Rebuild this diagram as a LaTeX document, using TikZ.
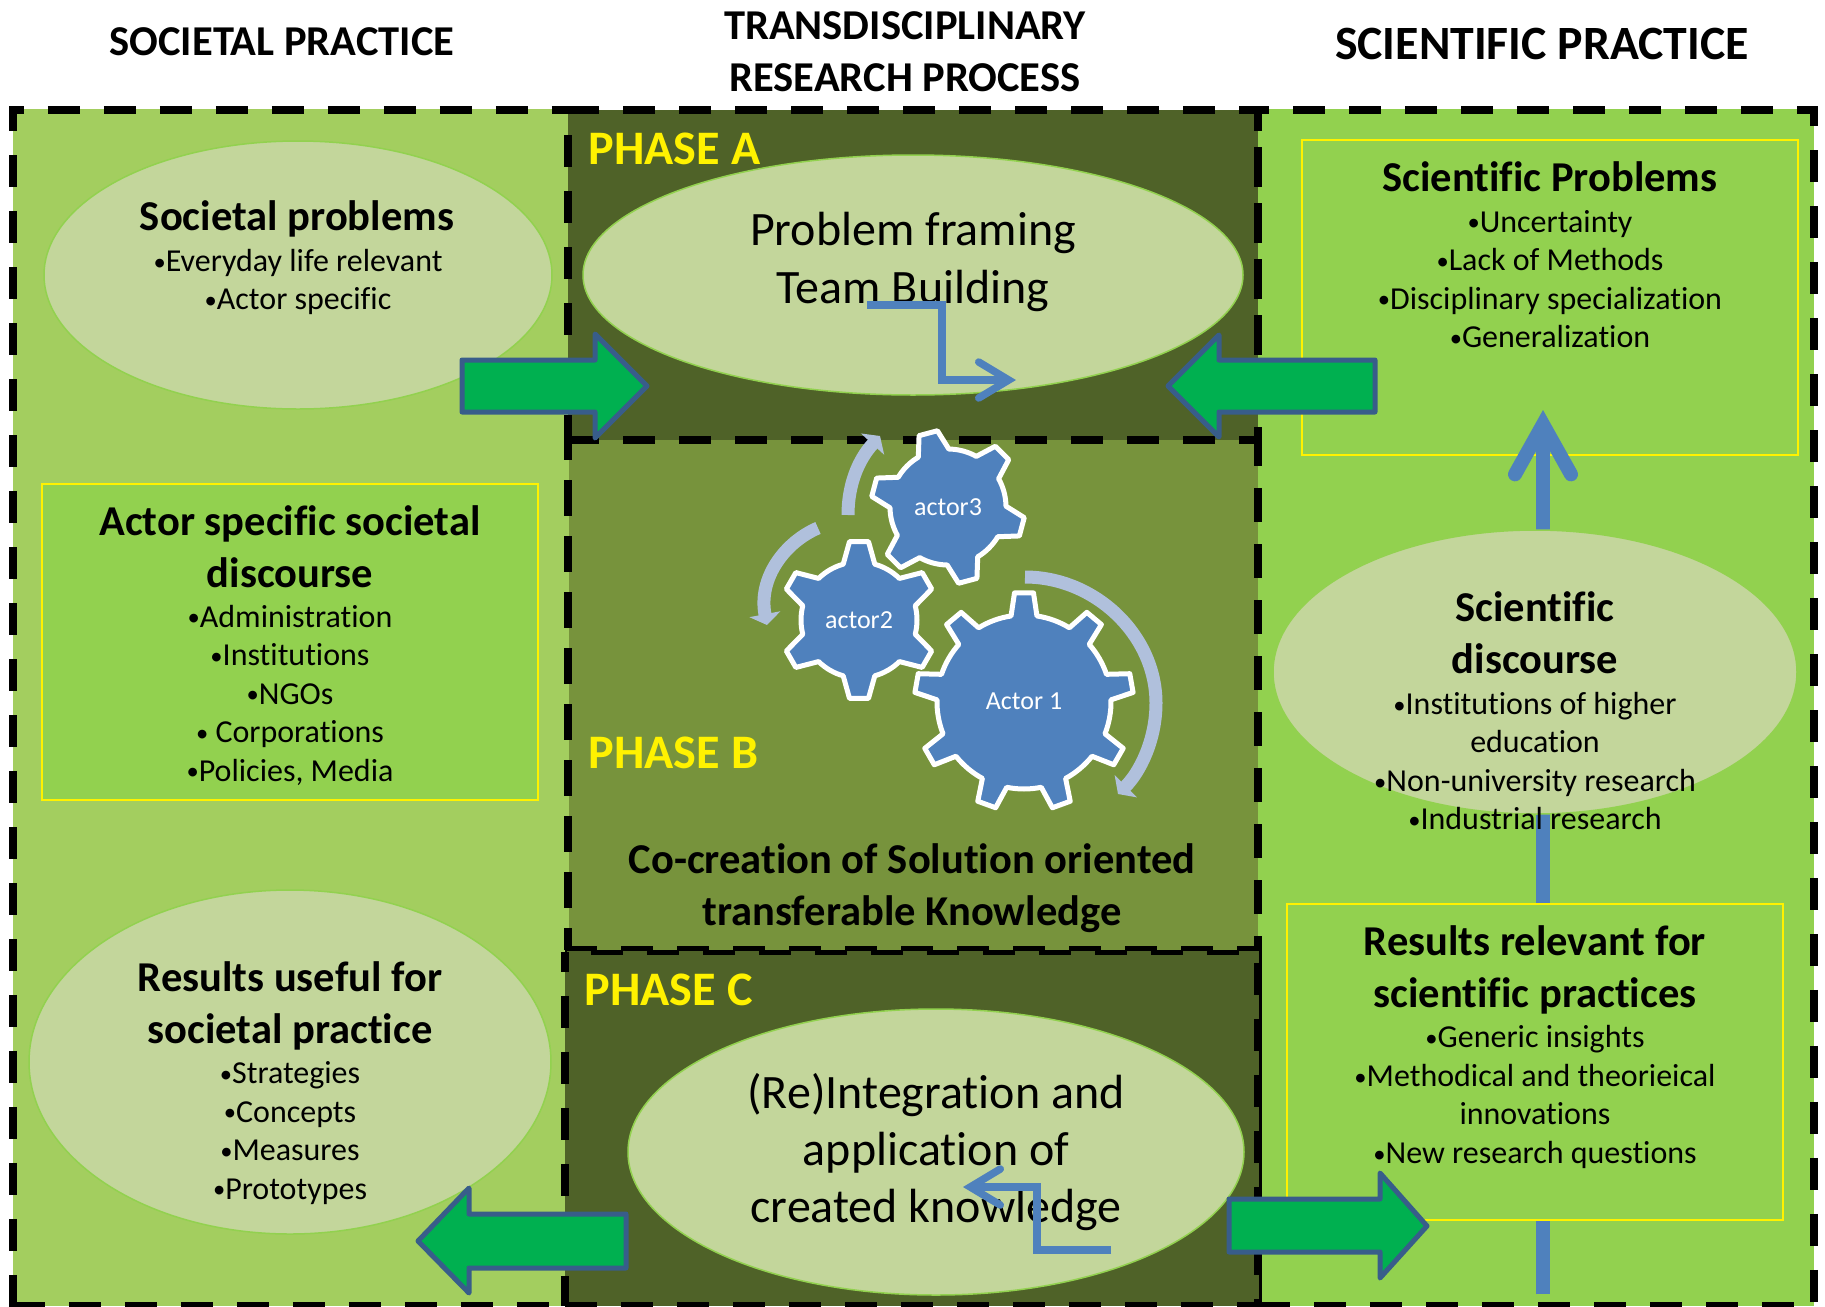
\documentclass[tikz,border=0pt]{standalone}
\usepackage{fontspec}
\setmainfont{Carlito}[Ligatures=CommonOff]
\usetikzlibrary{arrows.meta,shapes.geometric,calc}
\definecolor{leftgreen}{HTML}{A3CE5F}
\definecolor{rightgreen}{HTML}{92D14F}
\definecolor{darkolive}{HTML}{4F6228}
\definecolor{midolive}{HTML}{77933C}
\definecolor{paleoval}{HTML}{C3D69B}
\definecolor{fatgreen}{HTML}{00B050}
\definecolor{fatedge}{HTML}{385D8A}
\definecolor{gearblue}{HTML}{4F81BD}
\definecolor{palearrow}{HTML}{B0C0DC}
\tikzset{
    dashline/.style={line width=.8mm,dash pattern=on 3.2mm off 2.4mm},
    oval/.style={ellipse,draw=rightgreen,fill=paleoval,line width=.15mm,inner sep=0pt},
    yellowbox/.style={draw=yellow,fill=rightgreen,line width=.2mm},
    fatarrow/.style={draw=fatedge,fill=fatgreen,line width=.5mm,line join=round},
    headtext/.style={align=center,font=\fontsize{12.1}{14.7}\selectfont\bfseries},
    bodytext/.style={align=center,font=\fontsize{9.1}{10.95}\selectfont},
    bigtext/.style={align=center,font=\fontsize{13.65}{16.3}\selectfont},
    phasetext/.style={anchor=west,inner sep=0pt,text=yellow,font=\fontsize{13.7}{16}\selectfont\bfseries},
    geartext/.style={text=white,font=\fontsize{7.4}{9}\selectfont},
    bluearrow/.style={draw=gearblue,line width=.75mm,-{Straight Barb[length=3mm,width=3.6mm,line width=.75mm,line cap=round,line join=miter]}},
    swirl/.style={draw=palearrow,line width=1.3mm,-{Triangle[length=1.1mm,width=3.1mm]}},
    gearbody/.style={draw=white,fill=gearblue,line width=.5mm,line join=round}
}
\newcommand{\itm}{{\fontsize{7}{7}\selectfont\raisebox{.35pt}{•}}}
% center, teeth, first tooth angle, root radius, tip radius, half tooth at root
\newcommand{\gear}[6]{
    \begin{scope}[shift={(#1)},yscale=-1]
    \pgfmathsetmacro{\tipang}{545/#5}
    \pgfmathsetmacro{\rootang}{#6*57.3/#4}
    \pgfmathsetmacro{\gstep}{360/#2}
    \filldraw[gearbody] (#3-\rootang:#4)
        \foreach \i [evaluate=\i as \a using #3+(\i-1)*\gstep] in {1,...,#2}{
            -- (\a-\rootang:#4) -- (\a-\tipang:#5) -- (\a+\tipang:#5) -- (\a+\rootang:#4)
            arc[start angle=\a+\rootang,end angle=\a+\gstep-\rootang,radius=#4]
        } -- cycle;
    \end{scope}
}
\begin{document}
\begin{tikzpicture}[x=.1mm,y=-.1mm]
    \useasboundingbox (0,0) rectangle (1825,1306);
    \fill[white] (0,0) rectangle (1825,1306);
    % columns
    \fill[leftgreen] (13,109) rectangle (570,1306);
    \fill[rightgreen] (1258,109) rectangle (1814,1306);
    \fill[darkolive] (568,110) rectangle (1258,440);
    \fill[midolive] (569,440) rectangle (1258,950);
    \fill[darkolive] (565,950) rectangle (1260,1306);
    % outer sides
    \draw[dashline,dash phase=1.7mm] (9,110)--(572,110);
    \draw[dashline,dash phase=.7mm] (13,106)--(13,1310);
    \draw[dashline] (13,1306)--(568,1306);
    \draw[dashline,dash phase=1.7mm] (1254,110)--(1817,110);
    \draw[dashline,dash phase=1.2mm] (1813.5,106)--(1813.5,1310);
    \draw[dashline] (1258,1306)--(1817,1306);
    % phase boxes
    \draw[dashline] (567,110)--(1262,110);
    \draw[dashline,dash phase=3.1mm] (568,110)--(568,440);
    \draw[dashline,dash pattern=on 4mm off 1.6mm,dash phase=1.9mm] (1258,110)--(1258,440);
    \draw[dashline] (567,440)--(1262,440);
    \draw[dashline,dash pattern=on 3.6mm off 2mm,dash phase=1.6mm] (568,440)--(568,950);
    \draw[dashline,dash pattern=on 3.4mm off 2.2mm,dash phase=.8mm] (1258,440)--(1258,950);
    \draw[dashline,line width=.5mm] (565,948)--(1262,948);
    \draw[dashline,line width=.5mm,dash phase=3mm] (565,952)--(1262,952);
    \draw[dashline,dash phase=1.2mm] (565,952)--(565,1306);
    \draw[dashline,dash phase=4.5mm] (1258,952)--(1258,1306);
    \draw[black,line width=.3mm] (1260.5,950)--(1260.5,1306);
    \draw[dashline] (565,1306)--(1262,1306);

    \node[headtext] (societal) at (282,42) {SOCIETAL PRACTICE};
    \node[headtext] (process) at (905,52) {TRANSDISCIPLINARY\\RESEARCH PROCESS};
    \node[headtext,font=\fontsize{13.6}{17}\selectfont\bfseries] (scientific) at (1542,44) {SCIENTIFIC PRACTICE};

    \node[phasetext] (phasea) at (588,149) {PHASE A};
    \node[phasetext] (phaseb) at (588,753) {PHASE B};
    \node[phasetext] (phasec) at (584,990) {PHASE C};

    % boxes and the long arrow
    \draw[yellowbox] (1302,140) rectangle (1798,455);
    \draw[yellowbox] (42,484) rectangle (538,800);
    \coordinate (risefrom) at (1543,1294);
    \coordinate (riseto) at (1543,410);
    \draw[draw=gearblue,line width=1.4mm,-{Straight Barb[length=5mm,width=5.6mm,line width=1.4mm,line cap=round,line join=miter]}] (risefrom)--(riseto);
    \draw[yellowbox] (1287,904) rectangle (1783,1220);

    \node[oval,minimum width=50.8mm,minimum height=26.8mm] (sproblems) at (298,275) {};
    \node[oval,minimum width=66mm,minimum height=24mm] (framing) at (913,275) {};
    \node[oval,minimum width=52.4mm,minimum height=28.4mm] (sdiscourse) at (1535,672) {};
    \node[oval,minimum width=52.2mm,minimum height=34.4mm] (useful) at (290,1062) {};
    \node[oval,minimum width=61.6mm,minimum height=28.6mm] (reintegration) at (936,1152) {};

    \node[headtext] (sptitle) at (297,218.5) {Societal problems};
    \node[bodytext] (spitems) at (298,282) {\itm Everyday life relevant\\\itm Actor specific};
    \node[headtext] (adtitle) at (290,547) {Actor specific societal\\discourse};
    \node[bodytext] (aditems) at (290,695) {\itm Administration\\\itm Institutions\\\itm NGOs\\\itm\ Corporations\\\itm Policies, Media};
    \node[headtext] (rutitle) at (290,1006) {Results useful for\\societal practice};
    \node[bodytext] (ruitems) at (290,1133) {\itm Strategies\\\itm Concepts\\\itm Measures\\\itm Prototypes};

    \node[bigtext] (framingtext) at (913,262) {Problem framing\\Team Building};
    \node[headtext] (cocreation) at (912,888) {Co-creation of Solution oriented\\transferable Knowledge};
    \node[bigtext] (reinttext) at (936,1152) {(Re)Integration and\\application of\\created knowledge};

    \node[headtext] (sctitle) at (1550,177) {Scientific Problems};
    \node[bodytext] (scitems) at (1550,279) {\itm Uncertainty\\\itm Lack of Methods\\\itm Disciplinary specialization\\\itm Generalization};
    \node[headtext] (sdtitle) at (1535,633) {Scientific\\discourse};
    \node[bodytext] (sditems) at (1535,761) {\itm Institutions of higher\\education\\\itm Non-university research\\\itm Industrial research};
    \node[headtext] (rrtitle) at (1535,970) {Results relevant for\\scientific practices};
    \node[bodytext] (rritems) at (1535,1097) {\itm Generic insights\\\itm Methodical and theorieical\\innovations\\\itm New research questions};

    % thin bent arrows
    \draw[bluearrow] (867,305)--(942,305)--(942,380)--(1016,380);
    \draw[bluearrow] (1111,1250)--(1037,1250)--(1037,1187)--(963,1187);

    % fat arrows
    \draw[fatarrow] (462,360)--(595,360)--(595,334)--(647,386)--(595,438)--(595,412)--(462,412)--cycle;
    \draw[fatarrow] (1375,360)--(1219,360)--(1219,335)--(1168,386)--(1219,437)--(1219,412)--(1375,412)--cycle;
    \draw[fatarrow] (626,1214)--(469,1214)--(469,1188)--(418,1241)--(469,1293)--(469,1268)--(626,1268)--cycle;
    \draw[fatarrow] (1229,1199)--(1380,1199)--(1380,1173)--(1427,1226)--(1380,1278)--(1380,1252)--(1229,1252)--cycle;

    % gears
    \gear{1024,702}{9}{90}{87}{109.5}{13}
    \gear{859,620}{6}{90}{58}{79}{16}
    \gear{948,507}{6}{-15}{58}{77}{16}
    \node[geartext] (actorone) at (1024,701) {Actor 1};
    \node[geartext] (actortwo) at (859,620) {actor2};
    \node[geartext] (actorthree) at (948,507) {actor3};

    \draw[swirl] (1025,577) .. controls (1095,577) and (1156,635) .. (1156,703) .. controls (1156,740) and (1140,772) .. (1118,794);
    \draw[swirl] (818,528) .. controls (785,542) and (758,578) .. (767,625);
    \draw[swirl] (848,515) .. controls (848,485) and (858,460) .. (880,436);
\end{tikzpicture}
\end{document}
